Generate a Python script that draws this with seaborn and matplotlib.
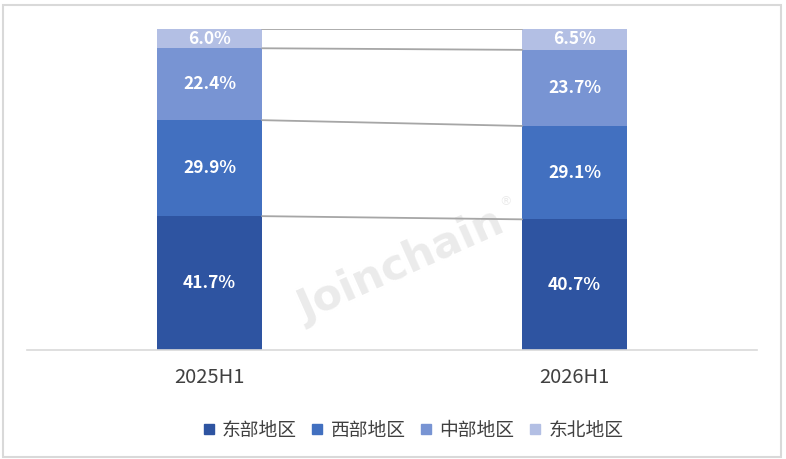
import matplotlib
matplotlib.use('Agg')
import numpy as np
import pandas as pd
import matplotlib.pyplot as plt
from matplotlib.patches import Rectangle
from matplotlib.lines import Line2D
import seaborn as sns

sns.set_style('white')
plt.rcParams['font.family'] = ['Noto Sans CJK SC', 'DejaVu Sans']

# data
periods = ['2025H1', '2026H1']
regions = ['东部地区', '西部地区', '中部地区', '东北地区']
east = [41.7, 40.7]
west = [29.9, 29.1]
central = [22.4, 23.7]
northeast = [6.0, 6.5]
colors = ['#2E54A1', '#4270C0', '#7894D3', '#B3BFE4']

shares = np.array([east, west, central, northeast])
cum = shares.cumsum(axis=0)

fig = plt.figure(figsize=(7.86, 4.59), dpi=100)
ax = fig.add_axes([27 / 786, 109 / 459, 730 / 786, 321 / 459])

# draw cumulative bars from top down so each layer shows as a stacked segment
bar_w = 0.288
for i in range(len(regions) - 1, -1, -1):
    df = pd.DataFrame({'period': periods, 'value': cum[i]})
    sns.barplot(data=df, x='period', y='value', color=colors[i], width=bar_w,
                saturation=1, ax=ax, linewidth=0)

# series lines between the bars
for i in range(len(regions)):
    ax.plot([0 + bar_w / 2, 1 - bar_w / 2], [cum[i][0], cum[i][1]],
            color='#A6A6A6', lw=1.3, zorder=1)

# segment labels
for i in range(len(regions)):
    for j in range(len(periods)):
        ymid = cum[i][j] - shares[i][j] / 2
        ax.text(j, ymid, '%.1f%%' % shares[i][j], ha='center', va='center',
                color='white', fontsize=12.5, fontweight='bold', zorder=5)

ax.set_xlim(-0.5, 1.5)
ax.set_ylim(0, 100)
ax.set_xlabel('')
ax.set_ylabel('')
ax.set_yticks([])
ax.tick_params(axis='x', length=0, pad=12, labelsize=14.5, labelcolor='#404040')
for s in ['top', 'right', 'left']:
    ax.spines[s].set_visible(False)
ax.spines['bottom'].set_color('#D9D9D9')
ax.spines['bottom'].set_linewidth(1.2)

# watermark
ax.text(0.51, 0.42, 'Joinchain', fontsize=31, fontweight='bold', color='#EBEBEB',
        rotation=24, ha='center', va='center', zorder=0.5, family='DejaVu Sans',
        transform=fig.transFigure)
ax.text(0.643, 0.56, '®', fontsize=9, color='#EBEBEB', ha='center', va='center',
        zorder=0.5, family='DejaVu Sans', transform=fig.transFigure)

# legend
handles = [Line2D([0], [0], marker='s', linestyle='', markersize=7.5,
                  markerfacecolor=c, markeredgecolor=c) for c in colors]
fig.legend(handles, regions, loc='center', bbox_to_anchor=(0.525, 0.063), ncol=4,
           frameon=False, fontsize=13.5, handlelength=0.7, handletextpad=0.35,
           columnspacing=0.75, labelcolor='#404040')

# outer border
fig.patches.append(Rectangle((3 / 786, 2 / 459), 778 / 786, 452 / 459,
                             transform=fig.transFigure, fill=False,
                             edgecolor='#D9D9D9', linewidth=1.5))

plt.savefig('out.png', dpi=100)
plt.close()
